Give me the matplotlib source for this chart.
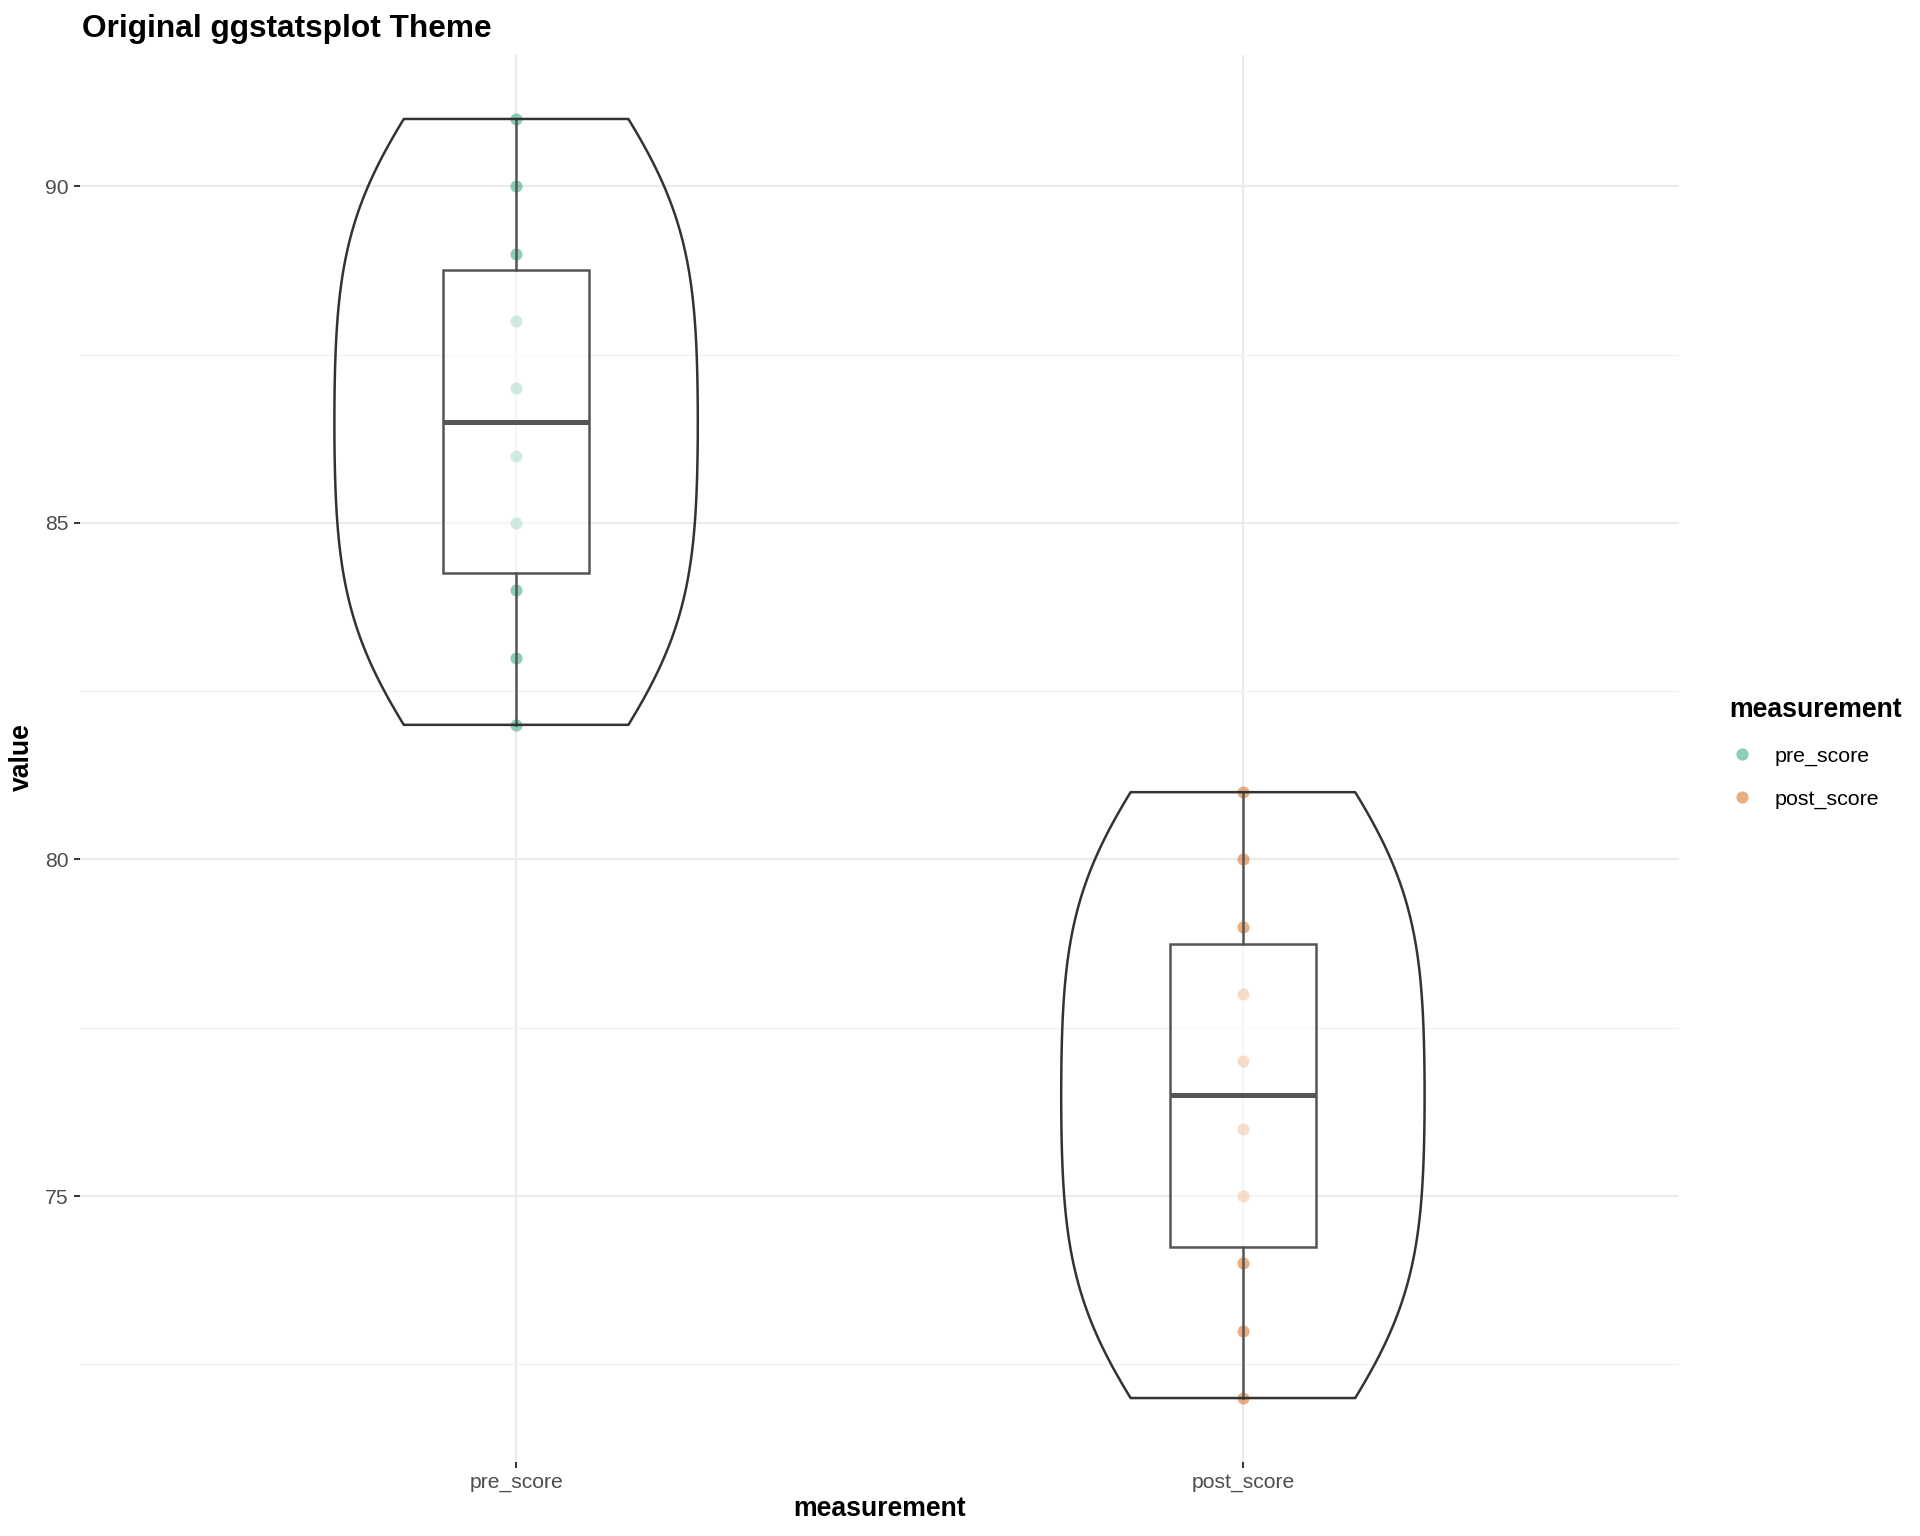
import numpy as np
import matplotlib.pyplot as plt
from matplotlib.ticker import MultipleLocator
from matplotlib.lines import Line2D

# data
groups = ['pre_score', 'post_score']
pre_score = [82, 83, 84, 85, 86, 87, 88, 89, 90, 91]
post_score = [72, 73, 74, 75, 76, 77, 78, 79, 80, 81]
colors = ['#1B9E77', '#D95F02']

plt.rcParams['font.family'] = ['Liberation Sans', 'DejaVu Sans']


def nrd0_factor(x):
    # R's bw.nrd0, expressed as a factor of the sample sd for matplotlib's KDE
    x = np.asarray(x, dtype=float)
    sd = x.std(ddof=1)
    q1, q3 = np.percentile(x, [25, 75])
    lo = min(sd, (q3 - q1) / 1.34)
    bw = 0.9 * lo * len(x) ** (-0.2)
    return bw / sd


data = [pre_score, post_score]
pos = [1, 2]

fig = plt.figure(figsize=(9.6, 7.68), dpi=200)
ax = fig.add_axes([0.04167, 0.04818, 0.8328, 0.9160])

# grid
ax.set_xlim(0.4, 2.6)
ax.set_ylim(71.05, 91.95)
ax.yaxis.set_major_locator(MultipleLocator(5))
ax.yaxis.set_minor_locator(MultipleLocator(2.5))
ax.grid(which='major', axis='both', color='#EBEBEB', linewidth=0.8, zorder=0)
ax.grid(which='minor', axis='y', color='#F2F2F2', linewidth=0.5, zorder=0)
ax.set_axisbelow(True)
for s in ax.spines.values():
    s.set_visible(False)

# points
for p, vals, c in zip(pos, data, colors):
    ax.scatter(np.full(len(vals), p), vals, s=19, color=c, alpha=0.5,
               linewidths=0, zorder=2)

# boxes
bp = ax.boxplot(data, positions=pos, widths=0.2, patch_artist=True,
                showcaps=False, showfliers=False, whis=(0, 100),
                manage_ticks=False, zorder=3)
for b in bp['boxes']:
    b.set_facecolor((1, 1, 1, 0.6))
    b.set_edgecolor('#555555')
    b.set_linewidth(0.9)
for w in bp['whiskers']:
    w.set_color('#555555')
    w.set_linewidth(0.9)
for m in bp['medians']:
    m.set_color('#555555')
    m.set_linewidth(1.8)

# violins
for p, vals in zip(pos, data):
    vp = ax.violinplot([vals], positions=[p], widths=0.5, showextrema=False,
                       bw_method=nrd0_factor(vals), points=512)
    for body in vp['bodies']:
        body.set_facecolor('none')
        body.set_edgecolor('#333333')
        body.set_linewidth(0.9)
        body.set_alpha(1)
        body.set_zorder(4)

ax.set_xticks(pos)
ax.set_xticklabels(groups)
ax.tick_params(axis='both', which='major', length=2, width=0.7, color='#333333',
               labelsize=7.6, labelcolor='#4D4D4D', pad=2)
ax.tick_params(axis='y', which='minor', length=0)

fig.text(82 / 1920, 1 - 29 / 1536, 'Original ggstatsplot Theme',
         fontsize=11.4, fontweight='bold', ha='left', va='center')
fig.text(22 / 1920, 1 - 757 / 1536, 'value', fontsize=9.6, fontweight='bold',
         rotation=90, ha='center', va='center')
fig.text(880 / 1920, 1 - 1509 / 1536, 'measurement', fontsize=9.6,
         fontweight='bold', ha='center', va='center')

handles = [Line2D([], [], marker='o', linestyle='none', markersize=4.4,
                  markerfacecolor=c, markeredgewidth=0, alpha=0.5)
           for c in colors]
leg = fig.legend(handles, groups, loc='upper left',
                 bbox_to_anchor=(1710 / 1920, 1 - 678 / 1536), frameon=False,
                 title='measurement', fontsize=7.7, handletextpad=0.9,
                 labelspacing=1.1, alignment='left', handlelength=1.2)
leg.get_title().set_fontweight('bold')
leg.get_title().set_fontsize(9.6)

fig.savefig('out.png', dpi=200)
